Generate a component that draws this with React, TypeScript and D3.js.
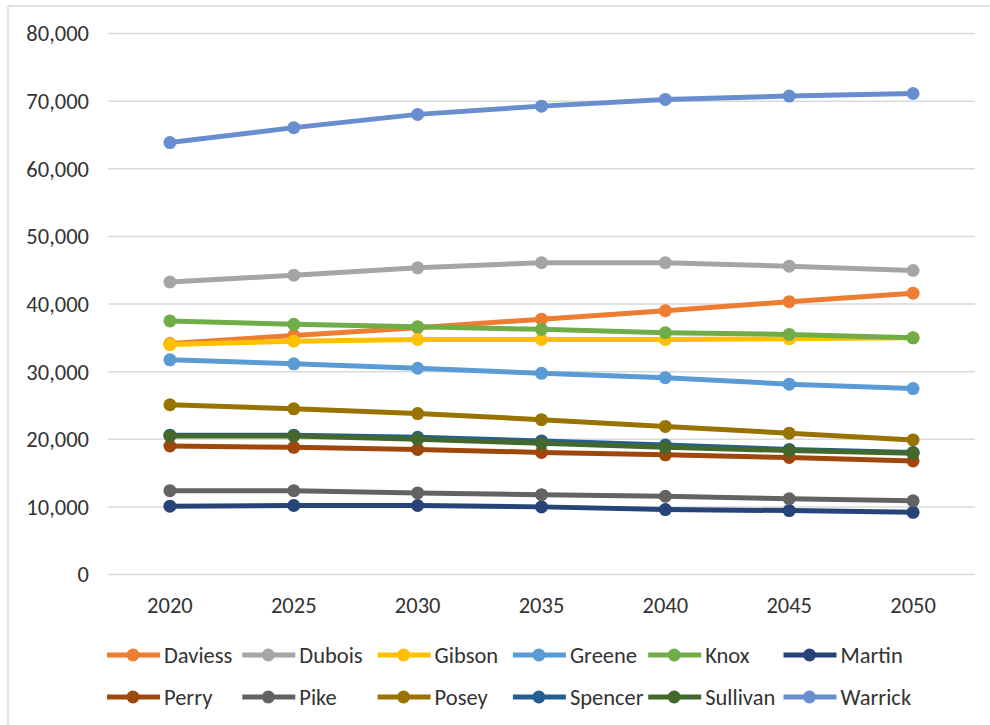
import React from "react";
import * as d3 from "d3";

const years = ["2020", "2025", "2030", "2035", "2040", "2045", "2050"];
const yTicks = [0, 10000, 20000, 30000, 40000, 50000, 60000, 70000, 80000];

const counties = ["Daviess", "Dubois", "Gibson", "Greene", "Knox", "Martin", "Perry", "Pike", "Posey", "Spencer", "Sullivan", "Warrick"];
const colors = ["#ED7D31", "#A5A5A5", "#FFC000", "#5B9BD5", "#70AD47", "#264478", "#9E480E", "#636363", "#997300", "#255E91", "#43682B", "#698ED0"];

const daviess = [34150, 35350, 36500, 37750, 39000, 40350, 41600];
const dubois = [43250, 44250, 45350, 46100, 46100, 45600, 44950];
const gibson = [34000, 34500, 34750, 34750, 34750, 34850, 35000];
const greene = [31750, 31150, 30500, 29750, 29100, 28150, 27500];
const knox = [37500, 37000, 36650, 36250, 35750, 35500, 35000];
const martin = [10100, 10200, 10200, 10000, 9600, 9450, 9200];
const perry = [19000, 18800, 18500, 18050, 17700, 17300, 16800];
const pike = [12400, 12400, 12060, 11800, 11570, 11200, 10900];
const posey = [25100, 24500, 23800, 22900, 21900, 20900, 19900];
const spencer = [20600, 20600, 20300, 19750, 19150, 18500, 18050];
const sullivan = [20490, 20490, 20000, 19400, 18800, 18330, 17940];
const warrick = [63870, 66080, 68040, 69260, 70250, 70740, 71130];

const seriesValues = [daviess, dubois, gibson, greene, knox, martin, perry, pike, posey, spencer, sullivan, warrick];

const FONT = "Carlito, 'Liberation Sans', Arial, sans-serif";
const FS = 22.5;

export default function App() {
  const x = d3.scalePoint<string>().domain(years).range([108, 975]).padding(0.5);
  const y = d3.scaleLinear().domain([0, 80000]).range([574.5, 33.5]);
  const fmt = d3.format(",");
  const line = d3
    .line<number>()
    .x((_, i) => x(years[i]) as number)
    .y((v) => y(v));

  const legendCol = (i: number) => 107 + (i % 6) * 135.3;
  const legendRow = (i: number) => (i < 6 ? 655 : 697);

  return (
    <svg width={990} height={725} style={{ position: "absolute", left: 0, top: 0, background: "#fff" }}>
      <rect x={0} y={0} width={990} height={725} fill="#fff" />
      <line x1={8} y1={6} x2={990} y2={6} stroke="#d9d9d9" strokeWidth={1.5} />
      <line x1={8} y1={6} x2={8} y2={725} stroke="#d9d9d9" strokeWidth={1.5} />
      {yTicks.map((t) => (
        <g key={t}>
          <line x1={108} x2={975} y1={y(t)} y2={y(t)} stroke="#d9d9d9" strokeWidth={1.5} />
          <text x={89} y={y(t)} dy="0.35em" textAnchor="end" fontFamily={FONT} fontSize={FS} fill="#333">
            {fmt(t)}
          </text>
        </g>
      ))}
      {years.map((yr) => (
        <text key={yr} x={x(yr)} y={613} textAnchor="middle" fontFamily={FONT} fontSize={FS} fill="#333">
          {yr}
        </text>
      ))}
      {seriesValues.map((vals, si) => (
        <g key={counties[si]}>
          <path d={line(vals) || ""} fill="none" stroke={colors[si]} strokeWidth={5} strokeLinejoin="round" />
          {vals.map((v, i) => (
            <circle key={i} cx={x(years[i])} cy={y(v)} r={6.5} fill={colors[si]} />
          ))}
        </g>
      ))}
      {counties.map((c, i) => {
        const lx = legendCol(i);
        const ly = legendRow(i);
        return (
          <g key={c}>
            <line x1={lx} x2={lx + 53} y1={ly} y2={ly} stroke={colors[i]} strokeWidth={5} />
            <circle cx={lx + 26} cy={ly} r={6.5} fill={colors[i]} />
            <text x={lx + 57} y={ly} dy="0.35em" fontFamily={FONT} fontSize={FS} fill="#333">
              {c}
            </text>
          </g>
        );
      })}
    </svg>
  );
}
